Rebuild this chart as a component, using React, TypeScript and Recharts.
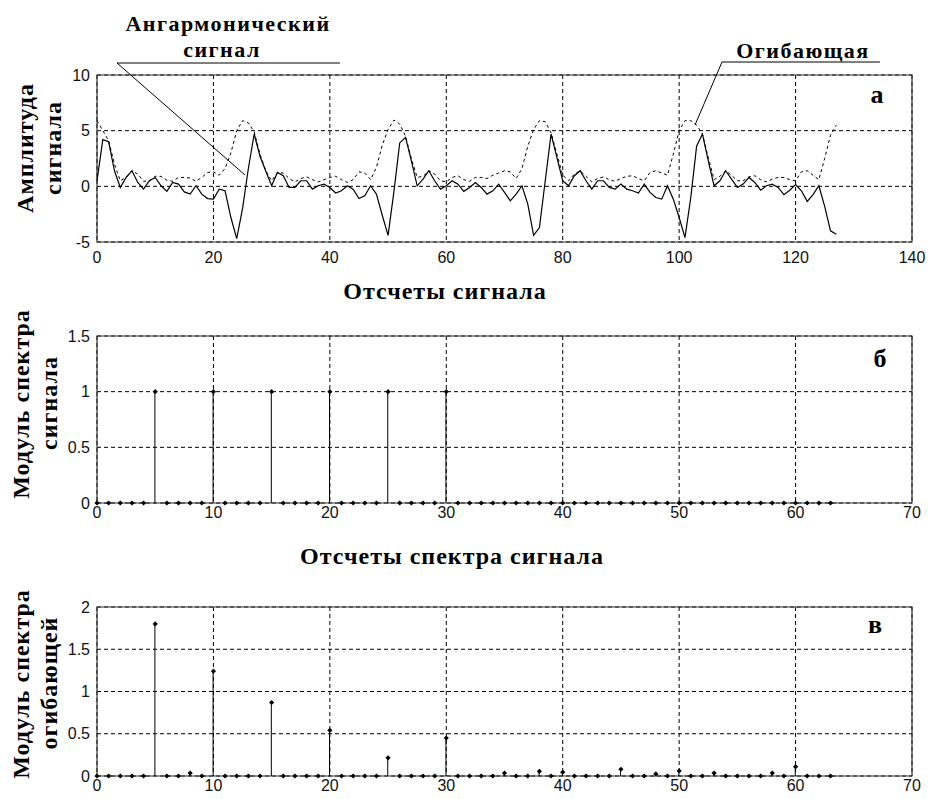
import { LineChart, Line, ComposedChart, Bar, XAxis, YAxis, CartesianGrid, ReferenceArea } from 'recharts'

// panel a: 128 samples of the anharmonic signal and its envelope
const signal = [
  0.5, 4.2, 4.0, 1.4, -0.1, 0.8, 1.4, 0.35, -0.25, 0.5,
  0.8, 0.05, -0.45, 0.35, 0.2, -0.5, -0.7, 0.05, -0.7, -1.1,
  -1.15, -0.25, -0.4, -2.8, -4.7, -2.0, 1.6, 4.7, 2.7, 1.35,
  0.05, 1.25, 0.95, -0.1, -0.1, 0.5, 0.5, -0.25, 0.05, 0.2,
  -0.1, -0.6, -0.4, 0.05, -0.25, -1.1, -0.85, 0.05, -0.7, -2.6,
  -4.4, -0.5, 3.9, 4.4, 2.3, 0.05, 0.65, 1.4, 0.5, -0.25,
  0.05, 0.5, 0.2, -0.45, -0.1, 0.35, -0.1, -0.7, -0.4, 0.2,
  -0.55, -1.3, -0.7, 0.05, -1.6, -4.4, -3.7, 0.5, 4.7, 2.6,
  0.5, 0.05, 0.95, 1.4, 0.5, -0.25, 0.5, 0.5, -0.1, -0.25,
  0.2, -0.25, -0.4, -0.6, 0.2, -0.55, -1.0, -1.15, 0.05, -1.15,
  -2.8, -4.6, -1.0, 3.6, 4.7, 2.3, 0.05, 0.5, 1.4, 0.65,
  -0.1, 0.2, 0.8, 0.35, -0.35, 0.05, 0.2, -0.1, -0.75, -0.35,
  0.15, -0.4, -1.35, -0.75, 0.05, -1.8, -4.0, -4.3,
]

const envelope = [
  5.9, 5.0, 4.1, 2.0, 0.5, 0.8, 1.4, 1.1, 0.45, 0.5,
  0.9, 0.9, 0.55, 0.45, 0.8, 0.8, 0.75, 0.45, 0.8, 1.25,
  1.3, 1.0, 1.6, 3.0, 5.0, 5.9, 5.7, 4.9, 2.9, 1.4,
  0.5, 1.25, 1.2, 0.7, 0.4, 0.7, 0.85, 0.6, 0.4, 0.6,
  0.8, 0.9, 0.6, 0.35, 0.6, 1.3, 1.2, 0.6, 1.7, 3.7,
  5.1, 5.95, 5.6, 4.5, 2.5, 0.8, 0.9, 1.4, 1.1, 0.5,
  0.4, 0.8, 0.95, 0.6, 0.45, 0.8, 0.8, 0.7, 1.0, 1.2,
  1.4, 1.3, 0.7, 1.6, 3.6, 5.1, 5.9, 5.8, 4.8, 2.9,
  1.0, 0.5, 1.1, 1.4, 0.9, 0.4, 0.7, 0.85, 0.6, 0.45,
  0.7, 0.9, 0.95, 0.7, 0.5, 1.25, 1.4, 1.2, 1.0, 2.9,
  5.0, 5.9, 5.9, 5.5, 4.7, 2.6, 0.6, 0.9, 1.4, 1.0,
  0.5, 0.5, 0.85, 0.95, 0.6, 0.4, 0.65, 0.8, 0.8, 0.6,
  0.5, 1.3, 1.4, 1.0, 0.6, 2.5, 4.6, 5.5,
]

// panel б: spectrum modulus of the signal, 64 bins
const signalSpectrum = [
  0, 0, 0, 0, 0, 1, 0, 0, 0, 0,
  1, 0, 0, 0, 0, 1, 0, 0, 0, 0,
  1, 0, 0, 0, 0, 1, 0, 0, 0, 0,
  1, 0, 0, 0, 0, 0, 0, 0, 0, 0,
  0, 0, 0, 0, 0, 0, 0, 0, 0, 0,
  0, 0, 0, 0, 0, 0, 0, 0, 0, 0,
  0, 0, 0, 0,
]

// panel в: spectrum modulus of the envelope, 64 bins
const envelopeSpectrum = [
  0, 0, 0, 0, 0, 1.8, 0, 0, 0.035, 0,
  1.24, 0, 0, 0, 0, 0.87, 0, 0, 0, 0,
  0.54, 0, 0, 0, 0, 0.215, 0, 0, 0, 0,
  0.45, 0, 0, 0, 0, 0.035, 0, 0, 0.055, 0,
  0.045, 0, 0, 0, 0, 0.08, 0, 0, 0.025, 0,
  0.06, 0, 0, 0.035, 0, 0, 0, 0, 0.035, 0,
  0.11, 0, 0, 0,
]

const ticksA = [0, 20, 40, 60, 80, 100, 120, 140]
const ticksAY = [-5, 0, 5, 10]
const ticksSpecX = [0, 10, 20, 30, 40, 50, 60, 70]
const ticksBY = [0, 0.5, 1, 1.5]
const ticksCY = [0, 0.5, 1, 1.5, 2]

const signalData = signal.map((s, i) => ({ n: i, s, e: envelope[i] }))
const specB = signalSpectrum.map((v, k) => ({ k, v }))
const specC = envelopeSpectrum.map((v, k) => ({ k, v }))

const tickFont = { fontFamily: "'Liberation Sans', Arial, sans-serif", fontSize: 16, fill: '#111' }
const serif = "'Liberation Serif', 'DejaVu Serif', 'Times New Roman', serif"

const renderDiamond = (p: any) => {
  if (p.cx == null || p.cy == null) return <g key={p.index} />
  const r = 2.6
  return (
    <polygon
      key={p.index}
      points={`${p.cx},${p.cy - r} ${p.cx + r},${p.cy} ${p.cx},${p.cy + r} ${p.cx - r},${p.cy}`}
      fill="#000"
    />
  )
}

const renderStem = (p: any) => {
  if (!p.height) return <g />
  const x = p.x + p.width / 2
  return <line x1={x} x2={x} y1={p.y} y2={p.y + p.height} stroke="#000" strokeWidth={1} />
}

function StemPanel({ data, yMax, yTicks, top, height, xAxisHeight }: any) {
  return (
    <div style={{ position: 'absolute', left: 0, top, width: 928, height }}>
      <ComposedChart width={928} height={height} data={data} margin={{ top: 10, right: 16, bottom: 0, left: 37 }}>
        <CartesianGrid stroke="#000" strokeDasharray="4 3" />
        <XAxis
          dataKey="k"
          type="number"
          domain={[0, 70]}
          ticks={ticksSpecX}
          height={xAxisHeight}
          tickLine={false}
          axisLine={false}
          tickSize={0}
          tickMargin={4}
          tick={tickFont}
          interval={0}
        />
        <YAxis
          type="number"
          domain={[0, yMax]}
          ticks={yTicks}
          width={60}
          tickLine={false}
          axisLine={false}
          tickSize={0}
          tickMargin={7}
          tick={tickFont}
          interval={0}
        />
        <ReferenceArea x1={0} x2={70} y1={0} y2={yMax} fill="none" stroke="#333" strokeWidth={1.2} />
        <Bar dataKey="v" barSize={1} shape={renderStem} isAnimationActive={false} />
        <Line dataKey="v" stroke="none" dot={renderDiamond} activeDot={false} isAnimationActive={false} />
      </ComposedChart>
    </div>
  )
}

export default function App() {
  return (
    <div style={{ position: 'absolute', left: 0, top: 0, width: 928, height: 799, overflow: 'hidden', background: '#fff' }}>
      <div style={{ position: 'absolute', left: 0, top: 0, width: 928, height: 275 }}>
        <LineChart width={928} height={275} data={signalData} margin={{ top: 75, right: 16, bottom: 3, left: 37 }}>
          <CartesianGrid stroke="#000" strokeDasharray="4 3" />
          <XAxis
            dataKey="n"
            type="number"
            domain={[0, 140]}
            ticks={ticksA}
            height={30}
            tickLine={false}
            axisLine={false}
            tickSize={0}
            tickMargin={10}
            tick={tickFont}
            interval={0}
          />
          <YAxis
            type="number"
            domain={[-5, 10]}
            ticks={ticksAY}
            width={60}
            tickLine={false}
            axisLine={false}
            tickSize={0}
            tickMargin={7}
            tick={tickFont}
            interval={0}
          />
          <ReferenceArea x1={0} x2={140} y1={-5} y2={10} fill="none" stroke="#333" strokeWidth={1.2} />
          <Line type="linear" dataKey="e" stroke="#000" strokeWidth={1} strokeDasharray="3 3" dot={false} activeDot={false} isAnimationActive={false} />
          <Line type="linear" dataKey="s" stroke="#000" strokeWidth={1.2} dot={false} activeDot={false} isAnimationActive={false} />
        </LineChart>
      </div>

      <StemPanel data={specB} yMax={1.5} yTicks={ticksBY} top={326} height={205} xAxisHeight={28} />
      <StemPanel data={specC} yMax={2} yTicks={ticksCY} top={597} height={202} xAxisHeight={23} />

      <svg width={928} height={799} style={{ position: 'absolute', left: 0, top: 0, pointerEvents: 'none' }}>
        <g style={{ fontFamily: serif, fontWeight: 700, fontSize: 22, letterSpacing: 1.5 }} fill="#000">
          <text x={228} y={31} textAnchor="middle">Ангармонический</text>
          <text x={222} y={57} textAnchor="middle">сигнал</text>
          <text x={803} y={58} textAnchor="middle">Огибающая</text>
        </g>
        <g style={{ fontFamily: serif, fontWeight: 700, fontSize: 24, letterSpacing: 1 }} fill="#000">
          <text x={445} y={299} textAnchor="middle">Отсчеты сигнала</text>
          <text x={452} y={564} textAnchor="middle">Отсчеты спектра сигнала</text>

          <text transform="translate(33,148) rotate(-90)" textAnchor="middle">Амплитуда</text>
          <text transform="translate(61,148) rotate(-90)" textAnchor="middle">сигнала</text>
          <text transform="translate(29,404) rotate(-90)" textAnchor="middle">Модуль спектра</text>
          <text transform="translate(57,403) rotate(-90)" textAnchor="middle">сигнала</text>
          <text transform="translate(29,684) rotate(-90)" textAnchor="middle">Модуль спектра</text>
          <text transform="translate(57,683) rotate(-90)" textAnchor="middle">огибающей</text>
        </g>
        <g style={{ fontFamily: serif, fontWeight: 700, fontSize: 26 }} fill="#000">
          <text x={877} y={103} textAnchor="middle">а</text>
          <text x={880} y={367} textAnchor="middle">б</text>
          <text x={875} y={633} textAnchor="middle">в</text>
        </g>
        <g stroke="#000" strokeWidth={1}>
          <line x1={117} y1={63} x2={340} y2={63} />
          <line x1={117} y1={63} x2={245} y2={175} />
          <line x1={722} y1={62} x2={880} y2={62} />
          <line x1={722} y1={62} x2={695} y2={125} />
        </g>
      </svg>
    </div>
  )
}
